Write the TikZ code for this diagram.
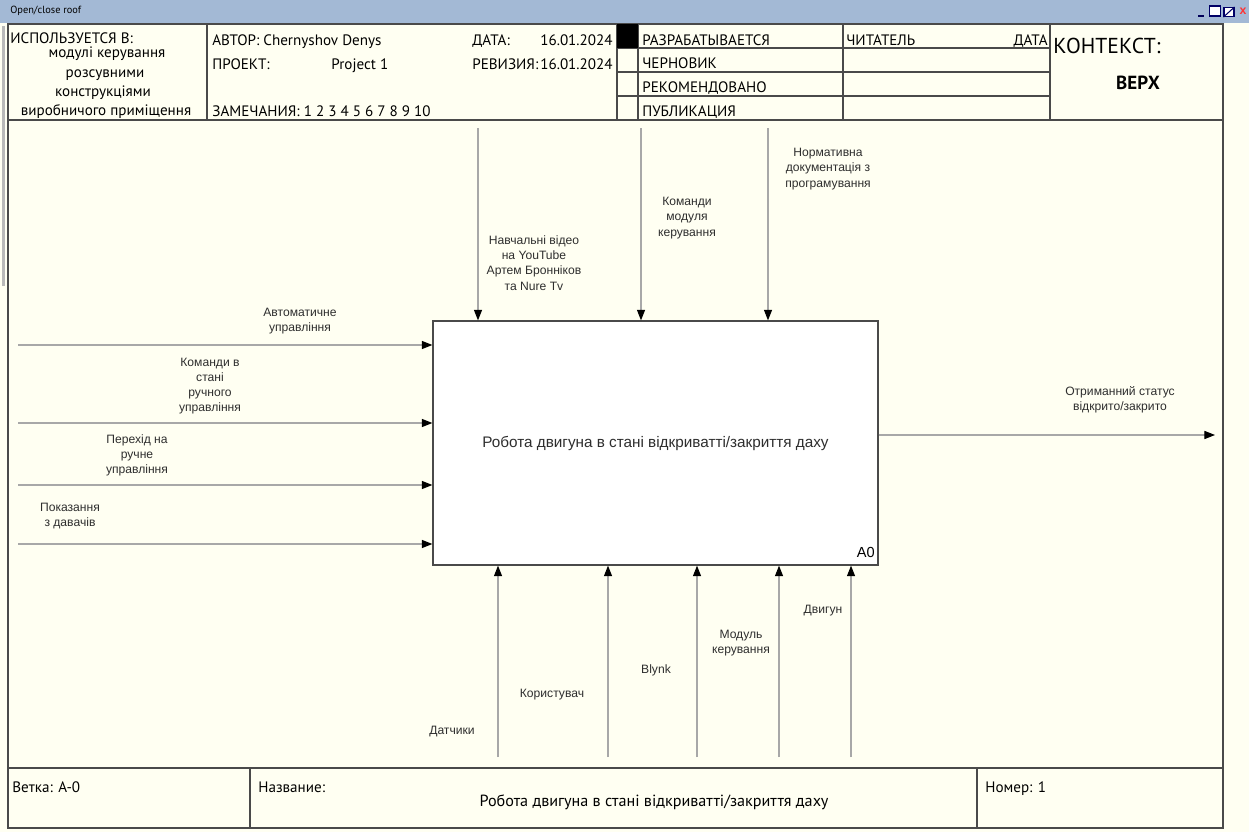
\documentclass[tikz,border=0pt]{standalone}
\usepackage{fontspec}
\setmainfont{Liberation Sans}
\newfontfamily\hdr{PT Sans}
\usetikzlibrary{arrows.meta}
\definecolor{cream}{HTML}{FFFFF2}
\definecolor{barblue}{HTML}{A3B9D5}
\definecolor{framec}{HTML}{4A4A4A}
\definecolor{arrowgray}{HTML}{A8A8A8}
\definecolor{lbltext}{HTML}{2E2E2E}
\begin{document}
\begin{tikzpicture}[x=0.02cm,y=-0.02cm,
  hd/.style={font=\hdr\fontsize{8.6}{10}\selectfont, inner sep=0pt, anchor=base west, text=black},
  hdr r/.style={hd, anchor=base east},
  hdc/.style={hd, anchor=base},
  lb/.style={font=\fontsize{6.9}{8.6}\selectfont, align=center, inner sep=0pt, text=lbltext},
  flow/.style={draw=arrowgray, line width=0.6pt, -{Triangle[length=6pt,width=4.6pt,color=black]}},
  rule/.style={draw=framec, line width=0.8pt}]
\useasboundingbox (0,0) rectangle (1249,832);
% background
\fill[cream] (0,0) rectangle (1249,832);
% title bar
\fill[barblue] (0,0) rectangle (1249,23);
\node[font=\hdr\fontsize{5.9}{7}\selectfont, anchor=west, inner sep=0pt] (wintitle) at (10,11) {Open/close roof};
\node[fill=blue!35!black, minimum width=7*0.567pt, minimum height=3*0.567pt, inner sep=0pt] (icmin) at (1201,16) {};
\node[draw=blue!40!black, fill=white, line width=0.8pt, minimum width=11*0.567pt, minimum height=10*0.567pt, inner sep=0pt] (icmax) at (1215,11) {};
\node[draw=blue!40!black, fill=white, line width=0.6pt, minimum width=10*0.567pt, minimum height=9*0.567pt, inner sep=0pt] (icres) at (1229,12) {};
\draw[blue!40!black, line width=0.6pt] (icres.south west) -- (icres.north east);
\node[text=red!80!white, font=\fontsize{7}{7}\selectfont\bfseries, inner sep=0pt] (icclose) at (1243,11) {x};
% scrollbar fragment
\fill[gray!55] (2.5,26) rectangle (5,286);
% frame
\draw[rule] (8,24) rectangle (1223,828);
\draw[rule] (8,120) -- (1223,120);
\draw[rule] (8,768) -- (1223,768);
% header dividers
\draw[rule] (207,24) -- (207,120);
\draw[rule] (617,24) -- (617,120);
\draw[rule] (638,24) -- (638,120);
\draw[rule] (843,24) -- (843,120);
\draw[rule] (1050,24) -- (1050,120);
\draw[rule] (617,48) -- (1050,48);
\draw[rule] (617,72) -- (1050,72);
\draw[rule] (617,96) -- (1050,96);
\fill[black] (617,24) rectangle (638,48);
% footer dividers
\draw[rule] (250,768) -- (250,828);
\draw[rule] (977,768) -- (977,828);
% header texts
\node[hd] (usedin) at (10,43) {ИСПОЛЬЗУЕТСЯ В:};
\node[hdc] (used1) at (107,57.5) {модулі керування};
\node[hdc] (used2) at (105,77) {розсувними};
\node[hdc] (used3) at (103,96) {конструкціями};
\node[hdc] (used4) at (106,115) {виробничого приміщення};
\node[hd] (author) at (212,45) {АВТОР: Chernyshov Denys};
\node[hd] (project) at (212,69) {ПРОЕКТ:};
\node[hd] (projname) at (331,69) {Project 1};
\node[hd] (notes) at (212,116) {ЗАМЕЧАНИЯ: 1 2 3 4 5 6 7 8 9 10};
\node[hd] (datel) at (472,45) {ДАТА:};
\node[hdr r] (datev) at (613,45) {16.01.2024};
\node[hd] (revl) at (472,69) {РЕВИЗИЯ:};
\node[hdr r] (revv) at (613,69) {16.01.2024};
\node[hd] (st1) at (642,45) {РАЗРАБАТЫВАЕТСЯ};
\node[hd] (st2) at (642,68) {ЧЕРНОВИК};
\node[hd] (st3) at (642,92) {РЕКОМЕНДОВАНО};
\node[hd] (st4) at (642,116) {ПУБЛИКАЦИЯ};
\node[hd] (reader) at (846,45) {ЧИТАТЕЛЬ};
\node[hdr r] (rdate) at (1048,45) {ДАТА};
\node[hd, font=\hdr\fontsize{12.3}{14}\selectfont] (context) at (1053,53) {КОНТЕКСТ:};
\node[hdc, font=\hdr\bfseries\fontsize{10.8}{12}\selectfont] (top) at (1138,89) {ВЕРХ};
% footer texts
\node[hd] (branch) at (12,792) {Ветка: A-0};
\node[hd] (namel) at (258,792) {Название:};
\node[hd] (number) at (985,792) {Номер: 1};
\node[hdc, font=\hdr\fontsize{9.2}{11}\selectfont] (namev) at (654,806) {Робота двигуна в стані відкриватті/закриття даху};
% main box
\node[draw=framec, fill=white, line width=0.8pt, minimum width=8.9cm, minimum height=4.88cm, inner sep=0pt,
      font=\fontsize{8.7}{10}\selectfont, text=lbltext] (box) at (655.5,443) {Робота двигуна в стані відкриватті/закриття даху};
\node[font=\fontsize{8.3}{10}\selectfont, anchor=south east, inner sep=0pt, text=black] (boxid) at (875,558) {A0};
% controls (top)
\coordinate (c1) at (478,128);
\coordinate (c2) at (641,128);
\coordinate (c3) at (768,128);
\draw[flow] (c1) -- (c1 |- box.north);
\draw[flow] (c2) -- (c2 |- box.north);
\draw[flow] (c3) -- (c3 |- box.north);
\node[lb] (lc1) at (534,263) {Навчальні відео\\на YouTube\\Артем Бронніков\\та Nure Tv};
\node[lb] (lc2) at (687,218) {Команди\\модуля\\керування};
\node[lb] (lc3) at (828,169) {Нормативна\\документація з\\програмування};
% inputs (left)
\coordinate (i1) at (18,345);
\coordinate (i2) at (18,423);
\coordinate (i3) at (18,485);
\coordinate (i4) at (18,544);
\draw[flow] (i1) -- (i1 -| box.west);
\draw[flow] (i2) -- (i2 -| box.west);
\draw[flow] (i3) -- (i3 -| box.west);
\draw[flow] (i4) -- (i4 -| box.west);
\node[lb] (li1) at (300,321) {Автоматичне\\управління};
\node[lb] (li2) at (210,386) {Команди в\\стані\\ручного\\управління};
\node[lb] (li3) at (137,455) {Перехід на\\ручне\\управління};
\node[lb] (li4) at (70,516) {Показання\\з давачів};
% output (right)
\coordinate (o1) at (1215,435);
\draw[flow] (box.east |- o1) -- (o1);
\node[lb] (lo1) at (1120,400) {Отриманний статус\\відкрито/закрито};
% mechanisms (bottom)
\coordinate (m1) at (498,757);
\coordinate (m2) at (608,757);
\coordinate (m3) at (697,757);
\coordinate (m4) at (779,757);
\coordinate (m5) at (851,757);
\draw[flow] (m1) -- (m1 |- box.south);
\draw[flow] (m2) -- (m2 |- box.south);
\draw[flow] (m3) -- (m3 |- box.south);
\draw[flow] (m4) -- (m4 |- box.south);
\draw[flow] (m5) -- (m5 |- box.south);
\node[lb] (lm1) at (452,732) {Датчики};
\node[lb] (lm2) at (552,695) {Користувач};
\node[lb] (lm3) at (656,670) {Blynk};
\node[lb] (lm4) at (741,643) {Модуль\\керування};
\node[lb] (lm5) at (823,611) {Двигун};
\end{tikzpicture}
\end{document}
